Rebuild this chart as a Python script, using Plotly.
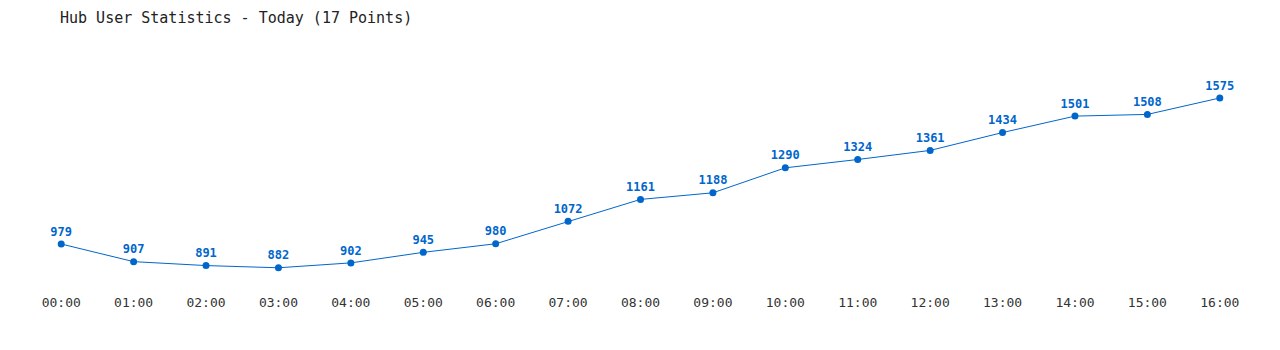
import plotly.graph_objects as go

hours = ["00:00", "01:00", "02:00", "03:00", "04:00", "05:00", "06:00", "07:00", "08:00",
         "09:00", "10:00", "11:00", "12:00", "13:00", "14:00", "15:00", "16:00"]
users = [979, 907, 891, 882, 902, 945, 980, 1072, 1161, 1188, 1290, 1324, 1361, 1434, 1501, 1508, 1575]

idx = list(range(len(hours)))

fig = go.Figure()
fig.add_trace(go.Scatter(
    x=idx, y=users, mode="lines+markers+text",
    line=dict(color="#0066cc", width=1),
    marker=dict(color="#0066cc", size=7),
    text=[str(v) for v in users], textposition="top center",
    textfont=dict(family="DejaVu Sans Mono", size=12, color="#0066cc", weight="bold"),
    cliponaxis=False, hoverinfo="skip",
))

fig.update_layout(
    width=1280, height=350,
    margin=dict(l=25, r=24, t=50, b=65),
    paper_bgcolor="white", plot_bgcolor="white",
    showlegend=False,
    title=dict(text="Hub User Statistics - Today (17 Points)", x=60/1280, xanchor="left",
               y=1-18/350, yanchor="middle",
               font=dict(family="DejaVu Sans Mono", size=15, color="#222")),
    xaxis=dict(range=[-0.5, 16.5], tickvals=idx, ticktext=hours, showgrid=False,
               zeroline=False, showline=False, ticks="", ticklabelstandoff=8,
               tickfont=dict(family="DejaVu Sans Mono", size=13, color="#333")),
    yaxis=dict(range=[811.7, 1770.9], visible=False, showgrid=False, zeroline=False),
)

fig.write_html("out.html")
